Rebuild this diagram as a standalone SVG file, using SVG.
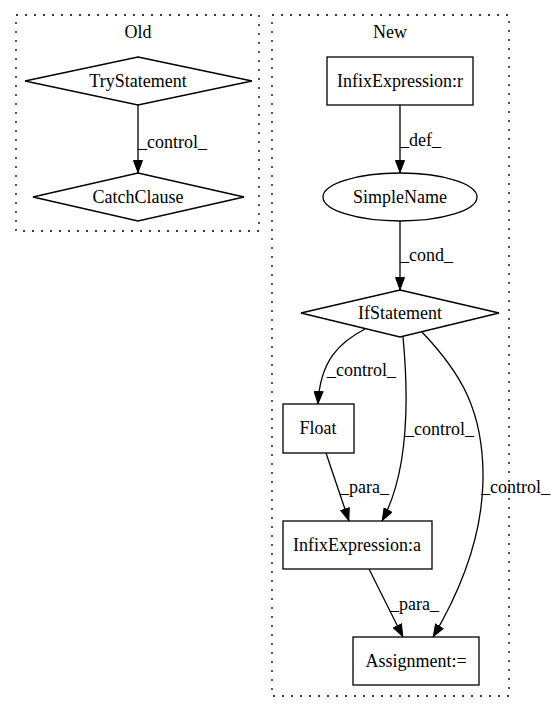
<svg xmlns="http://www.w3.org/2000/svg" width="556" height="712" viewBox="0 0 556 712">
<defs>
<marker id="arr" viewBox="0 0 13 10" refX="13" refY="5" markerWidth="13" markerHeight="10" markerUnits="userSpaceOnUse" orient="auto">
<path d="M0.5,0.5 L12.5,5 L0.5,9.5 z" fill="#000" stroke="#000" stroke-width="1"/>
</marker>
<style>
text{font-family:"Liberation Serif","Times New Roman",serif;font-size:18px;fill:#000}
.c{text-anchor:middle}
.node{fill:#fff;stroke:#000;stroke-width:1.3}
.cl{fill:none;stroke:#000;stroke-width:1.3;stroke-dasharray:2,7}
.e{fill:none;stroke:#000;stroke-width:1.3;marker-end:url(#arr)}
</style>
</defs>
<rect width="556" height="712" fill="#fff"/>
<g id="cluster_old">
<rect class="cl" x="16" y="15" width="243" height="216"/>
<text class="c" x="138" y="38">Old</text>
</g>
<g id="cluster_new">
<rect class="cl" x="272" y="15" width="237" height="681"/>
<text class="c" x="390" y="38">New</text>
</g>
<g id="TryStatement">
<polygon class="node" points="138,57 252,81 138,105 25,81"/>
<text class="c" x="138" y="87">TryStatement</text>
</g>
<g id="CatchClause">
<polygon class="node" points="138,173 244,197 138,221 33,197"/>
<text class="c" x="138" y="203">CatchClause</text>
</g>
<g id="InfixExpression_r">
<rect class="node" x="327" y="57" width="146" height="48"/>
<text class="c" x="400" y="87">InfixExpression:r</text>
</g>
<g id="SimpleName">
<ellipse class="node" cx="400" cy="197" rx="77" ry="24"/>
<text class="c" x="400" y="203">SimpleName</text>
</g>
<g id="IfStatement">
<polygon class="node" points="400,290 499,313 400,337 301,313"/>
<text class="c" x="400" y="319">IfStatement</text>
</g>
<g id="Float">
<rect class="node" x="283" y="404" width="71" height="49"/>
<text class="c" x="318" y="434">Float</text>
</g>
<g id="InfixExpression_a">
<rect class="node" x="283" y="521" width="149" height="48"/>
<text class="c" x="357" y="551">InfixExpression:a</text>
</g>
<g id="Assignment">
<rect class="node" x="353" y="637" width="126" height="48"/>
<text class="c" x="416" y="667">Assignment:=</text>
</g>
<g id="edges">
<path class="e" d="M138,105 L138,173"/>
<text x="138" y="148">_control_</text>
<path class="e" d="M400,105 L400,173"/>
<text x="400" y="146">_def_</text>
<path class="e" d="M400,221 L400,290"/>
<text x="400" y="261">_cond_</text>
<path class="e" d="M365,329 C340,342 320,360 318,404"/>
<text x="327" y="376">_control_</text>
<path class="e" d="M403,337 C408,390 410,470 382,521"/>
<text x="405" y="435">_control_</text>
<path class="e" d="M422,332 C460,372 484,410 483,480 C482,545 455,600 433,637"/>
<text x="481" y="493">_control_</text>
<path class="e" d="M326,453 L349,521"/>
<text x="340" y="493">_para_</text>
<path class="e" d="M369,569 L403,637"/>
<text x="390" y="610">_para_</text>
</g>
</svg>
